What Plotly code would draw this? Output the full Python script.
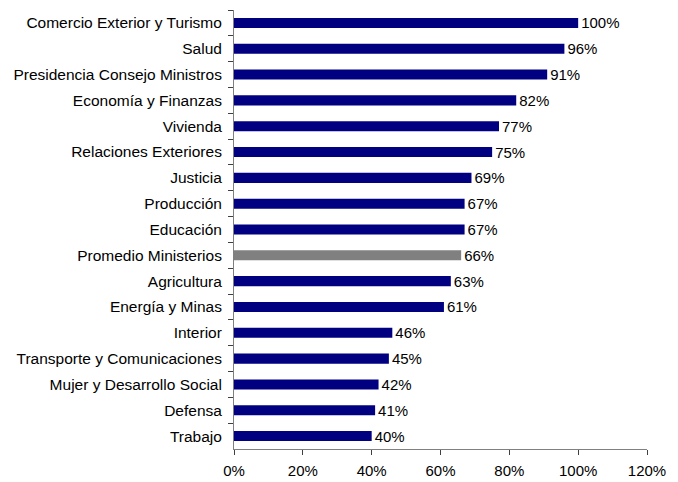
import plotly.graph_objects as go

categories = ["Comercio Exterior y Turismo", "Salud", "Presidencia Consejo Ministros",
              "Economía y Finanzas", "Vivienda", "Relaciones Exteriores", "Justicia",
              "Producción", "Educación", "Promedio Ministerios", "Agricultura",
              "Energía y Minas", "Interior", "Transporte y Comunicaciones",
              "Mujer y Desarrollo Social", "Defensa", "Trabajo"]
values = [1.00, 0.96, 0.91, 0.82, 0.77, 0.75, 0.69, 0.67, 0.67, 0.66, 0.63,
          0.61, 0.46, 0.45, 0.42, 0.41, 0.40]
highlight = "Promedio Ministerios"

colors = ["#808080" if c == highlight else "#000080" for c in categories]
FONT = "Liberation Sans, Arial"

fig = go.Figure(go.Bar(
    x=values, y=categories, orientation="h",
    marker=dict(color=colors, line=dict(width=0)),
    text=[f"{v*100:.0f}%" for v in values],
    textposition="outside", cliponaxis=False, constraintext="none",
    textfont=dict(family=FONT, size=15, color="#000000"),
))

fig.update_layout(
    width=670, height=474,
    margin=dict(l=226, r=31, t=2, b=33),
    paper_bgcolor="white", plot_bgcolor="white",
    bargap=0.61, showlegend=False,
    font=dict(family=FONT, size=15, color="#000000"),
)
fig.update_xaxes(range=[0, 1.2], dtick=0.2, tickformat=".0%", showgrid=False,
                 zeroline=False, showline=True, linecolor="#808080", linewidth=1,
                 ticks="outside", ticklen=5, tickcolor="#404040",
                 ticklabelstandoff=3)
fig.update_yaxes(autorange="reversed", showgrid=False, showline=True,
                 linecolor="#808080", linewidth=1, ticks="outside", ticklen=5,
                 tickcolor="#404040", tickson="boundaries", ticklabelstandoff=8,
                 tickfont=dict(family=FONT, size=15.5, color="#000000"))

fig.write_html("out.html")
